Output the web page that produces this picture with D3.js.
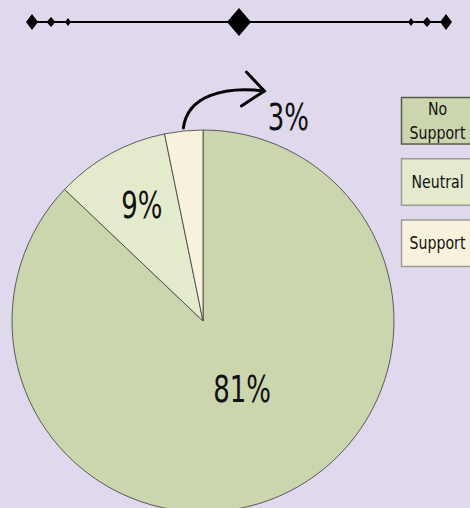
<!DOCTYPE html>
<html>
<head lang="en">
    <meta charset="UTF-8">
    <title></title>
    <style>
        body { margin: 0; background: #e0d9ee; }
        svg { display: block; font-family: "DejaVu Sans Condensed", "DejaVu Sans", sans-serif; font-stretch: condensed; }
    </style>
</head>
<body>
<svg width="470" height="508"></svg>
<script src="https://cdn.jsdelivr.net/npm/d3@7"></script>
<script>
    var categories = ["No Support", "Neutral", "Support"];
    var legendLines = [["No", "Support"], ["Neutral"], ["Support"]];
    var values = [81, 9, 3];
    var colors = ["#cbd5ae", "#e4ebcc", "#f8f1dc"];
    var legendBorders = ["#555a48", "#9a9a9a", "#9a9a9a"];

    var svg = d3.select("svg"),
            WIDTH = +svg.attr("width"),
            HEIGHT = +svg.attr("height");

    svg.append("rect").attr("width", WIDTH).attr("height", HEIGHT).attr("fill", "#e0d9ee");

    // ornament line on top
    var orn = svg.append("g");
    orn.append("line")
            .attr("x1", 32).attr("x2", 446)
            .attr("y1", 22).attr("y2", 22)
            .attr("stroke", "#000").attr("stroke-width", 2);
    var diamonds = [[32, 6, 8], [51, 4.5, 5], [68, 3, 4], [239, 12, 14], [411, 3, 4], [427, 4.5, 5], [446, 6, 8]];
    orn.selectAll("path.d").data(diamonds).enter().append("path")
            .attr("d", function (d) {
                return "M" + (d[0] - d[1]) + ",22L" + d[0] + "," + (22 - d[2]) + "L" + (d[0] + d[1]) + ",22L" + d[0] + "," + (22 + d[2]) + "Z";
            })
            .attr("fill", "#000");

    // pie
    var cx = 203, cy = 321, R = 191;
    var pie = d3.pie().sort(null).value(function (d) { return d; });
    var arcs = pie(values);
    var arc = d3.arc().innerRadius(0).outerRadius(R);

    var g = svg.append("g").attr("transform", "translate(" + cx + "," + cy + ")");
    g.selectAll("path.slice").data(arcs).enter().append("path")
            .attr("class", "slice")
            .attr("d", arc)
            .attr("fill", function (d, i) { return colors[i]; })
            .attr("stroke", "#3a3a3a")
            .attr("stroke-width", 0.8);

    // big labels are squeezed a bit to get the narrow look
    function bigLabel(x, y, txt) {
        g.append("text")
                .attr("transform", "translate(" + x + "," + y + ") scale(0.78,1)")
                .attr("text-anchor", "middle").attr("dominant-baseline", "central")
                .attr("font-size", 37).attr("fill", "#111")
                .text(txt);
    }

    var labelR = [74, 132];
    arcs.forEach(function (d, i) {
        if (i < 2) {
            var c = d3.arc().innerRadius(labelR[i]).outerRadius(labelR[i]).centroid(d);
            bigLabel(c[0] + (i == 0 ? 10 : 3), c[1], values[i] + "%");
        } else {
            var mid = (d.startAngle + d.endAngle) / 2;
            var sx = Math.sin(mid) * (R + 3), sy = -Math.cos(mid) * (R + 3);
            var ex = sx + 81, ey = sy - 37;
            g.append("path")
                    .attr("d", "M" + sx + "," + sy + "C" + (sx + 4) + "," + (sy - 32) + " " + (sx + 40) + "," + (ey - 5) + " " + ex + "," + ey)
                    .attr("fill", "none").attr("stroke", "#000").attr("stroke-width", 3)
                    .attr("stroke-linecap", "round");
            g.append("path")
                    .attr("d", "M" + (ex - 18) + "," + (ey - 19) + "L" + ex + "," + ey + "L" + (ex - 23) + "," + (ey + 15))
                    .attr("fill", "none").attr("stroke", "#000").attr("stroke-width", 3)
                    .attr("stroke-linecap", "round").attr("stroke-linejoin", "miter");
            bigLabel(sx + 105, sy - 11, values[i] + "%");
        }
    });

    // legend
    var yLegend = d3.scaleBand().domain(categories).range([97, 266]).paddingInner(0.24);
    var leg = svg.selectAll("g.leg").data(categories).enter().append("g")
            .attr("class", "leg")
            .attr("transform", function (d) { return "translate(401," + yLegend(d) + ")"; });
    leg.append("rect")
            .attr("x", 0.5).attr("y", 0.5)
            .attr("width", 72).attr("height", yLegend.bandwidth())
            .attr("fill", function (d, i) { return colors[i]; })
            .attr("stroke", function (d, i) { return legendBorders[i]; })
            .attr("stroke-width", 1.5);
    leg.each(function (d, i) {
        var lines = legendLines[i];
        var t = d3.select(this).append("text")
                .attr("transform", "translate(36.5," + (yLegend.bandwidth() / 2) + ") scale(0.85,1)")
                .attr("text-anchor", "middle")
                .attr("font-size", 18.5).attr("fill", "#111");
        lines.forEach(function (l, j) {
            t.append("tspan")
                    .attr("x", 0)
                    .attr("y", (j - (lines.length - 1) / 2) * 24)
                    .attr("dominant-baseline", "central")
                    .text(l);
        });
    });
</script>
</body>
</html>
